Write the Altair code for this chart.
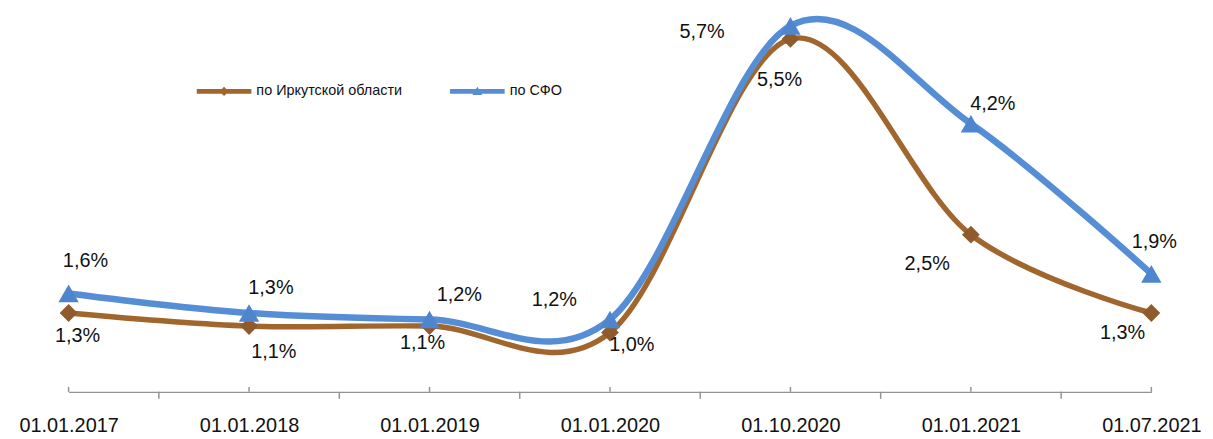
import json
import altair as alt
import pandas as pd

# ---------------- data ----------------
categories = ["01.01.2017", "01.01.2018", "01.01.2019", "01.01.2020",
              "01.10.2020", "01.01.2021", "01.07.2021"]
irkutsk_values = [1.3, 1.1, 1.1, 1.0, 5.5, 2.5, 1.3]
sfo_values = [1.6, 1.3, 1.2, 1.2, 5.7, 4.2, 1.9]
series_names = ["по Иркутской области", "по СФО"]

# ---------------- style ----------------
FONT = "Liberation Sans"
BROWN = "#A0662E"
BLUE = "#558ED5"
BROWN_MARK = "#8F5B2C"
BLUE_MARK = "#4F85CE"
AXIS_GRAY = "#949494"

PLOT_W = 1090
PLOT_H = 375          # plot height in px
Y_TOP = 5.8           # top of value scale
AXIS_GAP_PX = 6       # axis line sits this many px above the zero level
PPU = (PLOT_H + AXIS_GAP_PX) / Y_TOP
Y_BOTTOM = AXIS_GAP_PX / PPU
CAT_TICK_PX = 5       # category ticks point up
MID_TICK_PX = 7       # in-between ticks point down

NUDGE = {
    series_names[0]: [(9, 23), (25, 26), (-7, 17), (22, 13), (-11, 41), (-44, 30), (-29, 20)],
    series_names[1]: [(17, -33), (22, -25), (30, -25), (-56, -20), (-89, 6), (22, -20), (3, -32)],
}

rows = []
for name, vals in zip(series_names, [irkutsk_values, sfo_values]):
    for i, (c, v) in enumerate(zip(categories, vals)):
        rows.append({"series": name, "idx": i, "cat": c, "value": v,
                     "label": f"{v:.1f}".replace(".", ",") + "%"})
df = pd.DataFrame(rows)

n = len(categories)
cat_ticks = pd.DataFrame({"idx": list(range(n)),
                          "y0": [Y_BOTTOM] * n,
                          "y1": [Y_BOTTOM + CAT_TICK_PX / PPU] * n})
mid_ticks = pd.DataFrame({"idx": [i + 0.5 for i in range(n - 1)],
                          "y0": [Y_BOTTOM] * (n - 1),
                          "y1": [Y_BOTTOM - MID_TICK_PX / PPU] * (n - 1)})

x_scale = alt.Scale(domain=[0, n - 1], nice=False, zero=False)
y_scale = alt.Scale(domain=[Y_BOTTOM, Y_TOP], nice=False, zero=False)

x_axis = alt.Axis(
    values=list(range(n)),
    labelExpr=f"{json.dumps(categories)}[datum.value]",
    ticks=False, grid=False, title=None,
    domainColor=AXIS_GRAY, domainWidth=1.5,
    labelFont=FONT, labelFontSize=20, labelColor="#111111",
    labelPadding=24, labelFlush=False, labelOverlap=False, labelAngle=0,
)

X_axis = alt.X("idx:Q", scale=x_scale, axis=x_axis)
X = alt.X("idx:Q", scale=x_scale)
Y = alt.Y("value:Q", scale=y_scale, axis=None)

base = alt.Chart(df)

line_brown = base.transform_filter(alt.datum.series == series_names[0]).mark_line(
    interpolate="cardinal", tension=0, strokeWidth=5.5, color=BROWN, strokeCap="round"
).encode(x=X_axis, y=Y)

line_blue = base.transform_filter(alt.datum.series == series_names[1]).mark_line(
    interpolate="cardinal", tension=0, strokeWidth=6.5, color=BLUE, strokeCap="round"
).encode(x=X, y=Y)

pts_brown = base.transform_filter(alt.datum.series == series_names[0]).mark_point(
    shape="diamond", filled=True, size=320, color=BROWN_MARK, opacity=1
).encode(x=X, y=Y)
pts_blue = base.transform_filter(alt.datum.series == series_names[1]).mark_point(
    shape="triangle-up", filled=True, size=420, color=BLUE_MARK, opacity=1
).encode(x=X, y=Y)

tick_cat = alt.Chart(cat_ticks).mark_rule(color=AXIS_GRAY, strokeWidth=1.5).encode(
    x=X, y=alt.Y("y0:Q", scale=y_scale, axis=None), y2="y1:Q")
tick_mid = alt.Chart(mid_ticks).mark_rule(color=AXIS_GRAY, strokeWidth=1.5).encode(
    x=X, y=alt.Y("y0:Q", scale=y_scale, axis=None), y2="y1:Q")

label_layers = []
for name in series_names:
    for i in range(n):
        dx, dy = NUDGE[name][i]
        label_layers.append(
            base.transform_filter((alt.datum.series == name) & (alt.datum.idx == i)).mark_text(
                font=FONT, fontSize=20, color="#111111", align="center", baseline="middle",
                dx=dx, dy=dy
            ).encode(x=X, y=Y, text="label:N")
        )

# legend (symbol = thick line with marker); the layer's own marks are invisible
diamond_path = "M-1,-0.09L1,-0.09L1,0.09L-1,0.09Z M0,-0.17L0.17,0L0,0.17L-0.17,0Z"
triangle_path = "M-1,-0.09L1,-0.09L1,0.09L-1,0.09Z M0,-0.17L0.18,0.13L-0.18,0.13Z"
legend_def = alt.Legend(
    title=None, orient="none", direction="horizontal", legendX=129, legendY=45,
    symbolSize=3025, symbolStrokeWidth=0, symbolOpacity=1, labelFont=FONT, labelFontSize=14.5,
    labelColor="#111111", labelOffset=5, columnPadding=48, padding=0,
)
legend_layer = base.mark_point(filled=True, opacity=0).encode(
    x=X, y=Y,
    color=alt.Color("series:N", scale=alt.Scale(domain=series_names, range=[BROWN, BLUE]),
                    legend=legend_def),
    shape=alt.Shape("series:N", scale=alt.Scale(domain=series_names,
                                                range=[diamond_path, triangle_path]),
                    legend=legend_def),
)

chart = alt.layer(
    line_brown, line_blue, tick_cat, tick_mid, pts_brown, pts_blue, *label_layers, legend_layer
).properties(
    width=PLOT_W, height=PLOT_H,
    autosize=alt.AutoSizeParams(type="none"),
    padding={"left": 61, "top": 10, "right": 54, "bottom": 46},
).configure_view(stroke=None)

chart.save("out.html", embed_options={"renderer": "svg", "actions": False})
